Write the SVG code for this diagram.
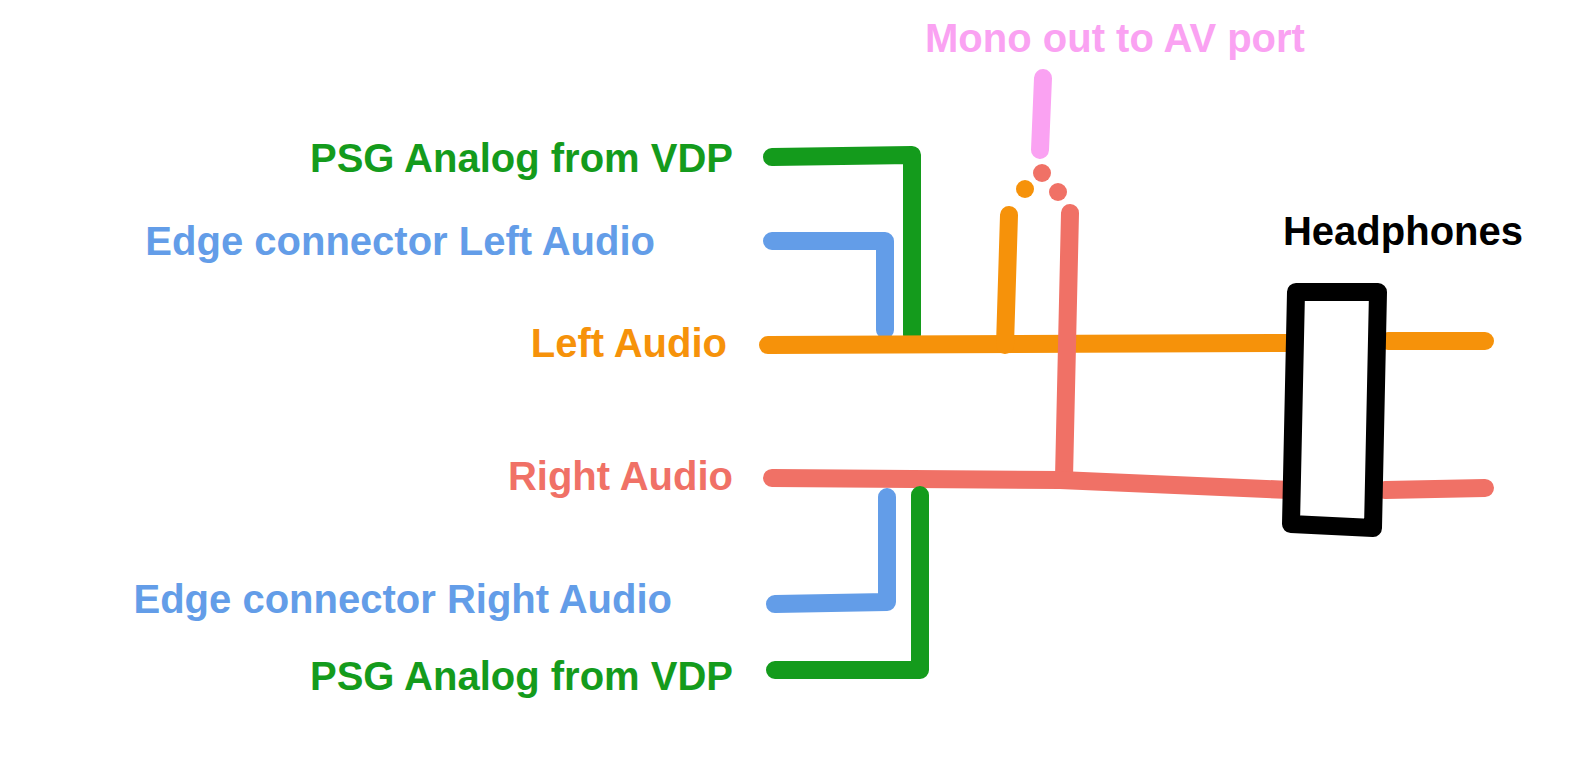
<svg xmlns="http://www.w3.org/2000/svg" width="1590" height="760" viewBox="0 0 1590 760">
<style>
.w{fill:none;stroke-width:18;stroke-linecap:round;stroke-linejoin:round}
.g{stroke:#149b1c}.b{stroke:#639de8}.o{stroke:#f6920a}.r{stroke:#f07166}.p{stroke:#faa2f2}
text{font-family:"Liberation Sans",Arial,sans-serif;font-weight:bold;font-size:40px}
</style>
<rect width="1590" height="760" fill="#fff"/>
<g id="labels">
<text x="733" y="172" text-anchor="end" fill="#149b1c">PSG Analog from VDP</text>
<text x="655" y="255" text-anchor="end" fill="#639de8">Edge connector Left Audio</text>
<text x="727" y="357" text-anchor="end" fill="#f6920a">Left Audio</text>
<text x="733" y="490" text-anchor="end" fill="#f07166">Right Audio</text>
<text x="672" y="613" text-anchor="end" fill="#639de8">Edge connector Right Audio</text>
<text x="733" y="690" text-anchor="end" fill="#149b1c">PSG Analog from VDP</text>
<text x="1115" y="52" text-anchor="middle" fill="#faa2f2">Mono out to AV port</text>
<text x="1403" y="245" text-anchor="middle" fill="#000">Headphones</text>
</g>
<g id="connectors">
<polyline class="w g" points="772,157 912,155 912,335"/>
<polyline class="w b" points="772,241 885,241 885,330"/>
<polyline class="w o" points="768,345 1290,343"/>
<polyline class="w o" points="1388,341 1485,341"/>
<polyline class="w o" points="1009,215 1005,345"/>
<polyline class="w p" points="1043,78 1040,150"/>
<polyline class="w r" points="1070,213 1064,478"/>
<polyline class="w r" points="772,478 1060,480 1290,490"/>
<polyline class="w r" points="1385,490 1485,488"/>
<polyline class="w b" points="887,497 887,602 775,604"/>
<polyline class="w g" points="920,495 920,670 775,670"/>
<circle cx="1025" cy="189" r="9" fill="#f6920a"/>
<circle cx="1042" cy="173" r="9" fill="#f07166"/>
<circle cx="1058" cy="192" r="9" fill="#f07166"/>
</g>
<g id="headphones">
<polygon points="1296,292 1378,292 1373,528 1291,524" fill="#fff" stroke="#000" stroke-width="18" stroke-linejoin="round"/>
</g>
</svg>
